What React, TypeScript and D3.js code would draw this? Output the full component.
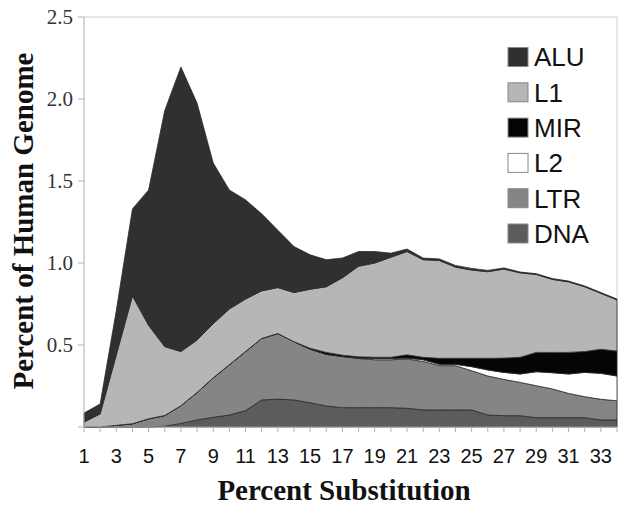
import React from "react";
import * as d3 from "d3";

const categories: number[] = d3.range(1, 35);
const seriesNames = ["DNA", "LTR", "L2", "MIR", "L1", "ALU"];
const legendOrder = ["ALU", "L1", "MIR", "L2", "LTR", "DNA"];
const yTicks = [0.5, 1.0, 1.5, 2.0, 2.5];
const xTickLabels = categories.filter((c) => c % 2 === 1);

const DNA = [0, 0, 0, 0, 0, 0.005, 0.022, 0.043, 0.059, 0.073, 0.1, 0.165, 0.17, 0.165, 0.148, 0.128, 0.118, 0.118, 0.118, 0.118, 0.114, 0.104, 0.104, 0.104, 0.104, 0.073, 0.069, 0.069, 0.057, 0.057, 0.057, 0.057, 0.043, 0.043];
const LTR = [0, 0, 0.01, 0.02, 0.05, 0.065, 0.108, 0.167, 0.241, 0.307, 0.36, 0.375, 0.4, 0.355, 0.327, 0.315, 0.312, 0.3, 0.292, 0.292, 0.301, 0.296, 0.27, 0.27, 0.239, 0.238, 0.221, 0.203, 0.195, 0.175, 0.148, 0.128, 0.126, 0.117];
const L2 = [0, 0, 0, 0, 0, 0, 0, 0, 0, 0, 0, 0, 0, 0, 0, 0, 0, 0.002, 0.008, 0.008, 0.005, 0.01, 0.008, 0.008, 0.025, 0.037, 0.043, 0.051, 0.085, 0.099, 0.118, 0.148, 0.158, 0.151];
const MIR = [0, 0, 0, 0, 0, 0, 0, 0, 0, 0, 0, 0, 0, 0, 0.005, 0.012, 0.008, 0.008, 0.007, 0.007, 0.02, 0.015, 0.037, 0.037, 0.051, 0.071, 0.087, 0.102, 0.118, 0.124, 0.132, 0.127, 0.147, 0.152];
const L1 = [0.03, 0.08, 0.43, 0.78, 0.57, 0.42, 0.33, 0.32, 0.33, 0.34, 0.32, 0.29, 0.28, 0.3, 0.36, 0.4, 0.472, 0.552, 0.575, 0.61, 0.63, 0.595, 0.596, 0.556, 0.538, 0.528, 0.543, 0.515, 0.475, 0.445, 0.43, 0.395, 0.341, 0.312];
const ALU = [0.055, 0.06, 0.27, 0.53, 0.825, 1.44, 1.735, 1.445, 0.98, 0.725, 0.605, 0.47, 0.35, 0.28, 0.21, 0.165, 0.12, 0.09, 0.07, 0.025, 0.015, 0.01, 0.01, 0.01, 0.01, 0.008, 0.007, 0.005, 0.005, 0.005, 0.005, 0.005, 0.005, 0.005];

const colors: Record<string, string> = {
  ALU: "#303030",
  L1: "#b6b6b6",
  MIR: "#050505",
  L2: "#ffffff",
  LTR: "#858585",
  DNA: "#5c5c5c",
};

const W = 621;
const H = 506;
const left = 84;
const right = 617;
const top = 17;
const bottom = 427;

export default function App() {
  const valuesByName: Record<string, number[]> = { DNA, LTR, L2, MIR, L1, ALU };
  const table = categories.map((c, i) => {
    const row: Record<string, number> = { cat: c };
    seriesNames.forEach((n) => (row[n] = valuesByName[n][i]));
    return row;
  });
  const stacked = d3.stack<Record<string, number>>().keys(seriesNames)(table);

  const x = d3.scalePoint<number>().domain(categories).range([left, right]);
  const y = d3.scaleLinear().domain([0, 2.5]).range([bottom, top]);

  const area = d3
    .area<d3.SeriesPoint<Record<string, number>>>()
    .x((d) => x(d.data.cat) as number)
    .y0((d) => y(d[0]))
    .y1((d) => y(d[1]));

  const serif = "'Liberation Serif', 'Times New Roman', serif";
  const sans = "'Liberation Sans', Arial, sans-serif";

  return (
    <svg
      width={W}
      height={H}
      style={{ position: "absolute", left: 0, top: 0, background: "#fff" }}
    >
      {/* plot frame */}
      <line x1={left} y1={top} x2={right} y2={top} stroke="#cfcfcf" strokeWidth={1} />
      <line x1={right} y1={top} x2={right} y2={bottom} stroke="#cfcfcf" strokeWidth={1} />

      {/* areas */}
      {stacked.map((s) => (
        <path
          key={s.key}
          d={area(s) || ""}
          fill={colors[s.key]}
          stroke="#2a2a2a"
          strokeWidth={0.8}
          strokeLinejoin="round"
        />
      ))}

      {/* y axis */}
      <line x1={left} y1={top} x2={left} y2={bottom} stroke="#b0b0b0" strokeWidth={1} />
      {[0, ...yTicks].map((t) => (
        <line key={"yt" + t} x1={left - 6} x2={left} y1={y(t)} y2={y(t)} stroke="#b0b0b0" />
      ))}
      {yTicks.map((t) => (
        <text
          key={"yl" + t}
          x={73}
          y={y(t)}
          dy="0.35em"
          textAnchor="end"
          fontFamily={serif}
          fontSize={21}
          fill="#333"
        >
          {t.toFixed(1)}
        </text>
      ))}

      {/* x axis */}
      <line x1={left} y1={bottom} x2={right} y2={bottom} stroke="#b0b0b0" strokeWidth={1} />
      {categories.map((c) => (
        <line
          key={"xt" + c}
          x1={x(c)}
          x2={x(c)}
          y1={bottom}
          y2={bottom + 5}
          stroke="#b0b0b0"
        />
      ))}
      {xTickLabels.map((c) => (
        <text
          key={"xl" + c}
          x={x(c)}
          y={463}
          textAnchor="middle"
          fontFamily={sans}
          fontSize={20}
          fill="#111"
        >
          {c}
        </text>
      ))}

      {/* axis titles */}
      <text
        x={344}
        y={500}
        textAnchor="middle"
        fontFamily={serif}
        fontWeight="bold"
        fontSize={29}
        fill="#111"
      >
        Percent Substitution
      </text>
      <text
        transform="translate(33,221) rotate(-90)"
        textAnchor="middle"
        fontFamily={serif}
        fontWeight="bold"
        fontSize={29}
        fill="#111"
      >
        Percent of Human Genome
      </text>

      {/* legend */}
      {legendOrder.map((n, i) => {
        const cy = 57 + i * 35.3;
        return (
          <g key={"lg" + n}>
            <rect
              x={508}
              y={cy - 9.5}
              width={20}
              height={19}
              fill={colors[n]}
              stroke="#888"
              strokeWidth={1}
            />
            <text
              x={534}
              y={cy}
              dy="0.36em"
              fontFamily={sans}
              fontSize={26}
              fill="#111"
            >
              {n}
            </text>
          </g>
        );
      })}
    </svg>
  );
}
